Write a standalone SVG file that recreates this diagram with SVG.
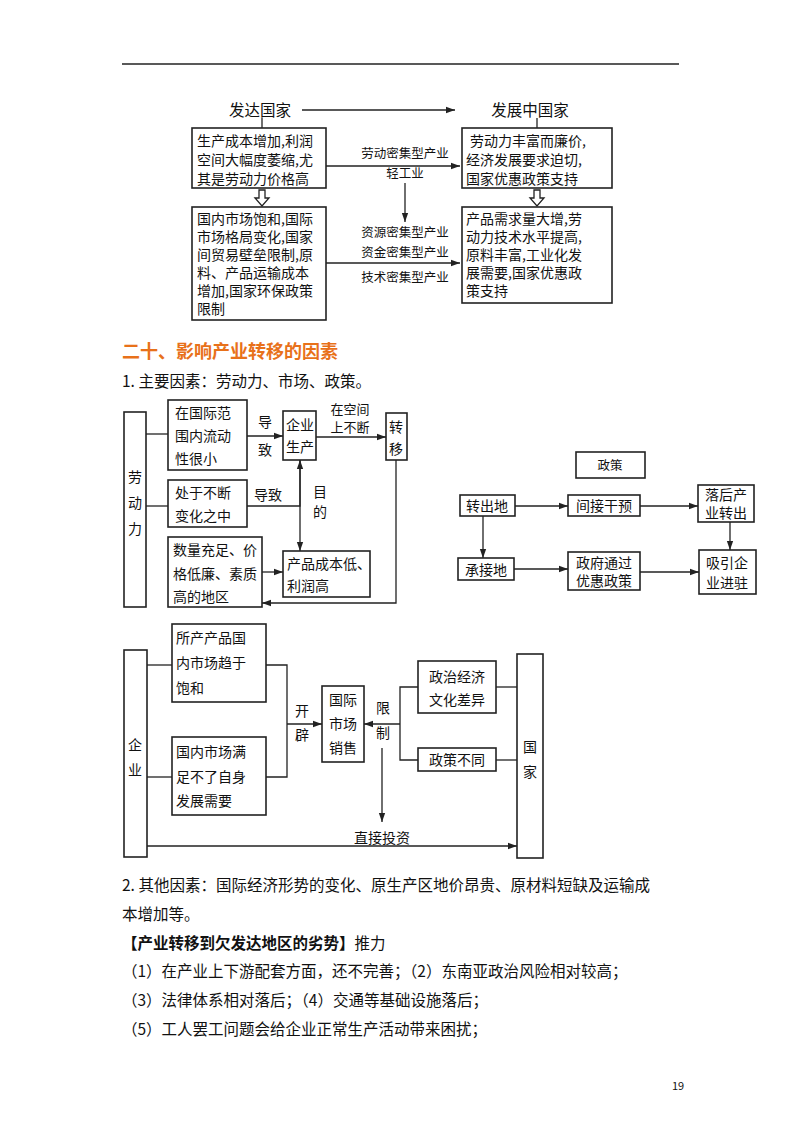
<svg xmlns="http://www.w3.org/2000/svg" width="800" height="1132" viewBox="0 0 800 1132">
<style>
text{font-family:"Noto Sans CJK SC","Noto Sans",sans-serif;fill:#111}
.t{font-size:14px}
.s{font-size:12.5px}
.b{fill:#fff;stroke:#222;stroke-width:1.6}
.l{fill:none;stroke:#222;stroke-width:1.3}
.m{font-size:15.5px}
.c{text-anchor:middle}
</style>
<defs>
<marker id="a" viewBox="0 0 10 10" refX="10" refY="5" markerWidth="7" markerHeight="7" orient="auto-start-reverse"><path d="M0,1.5 L10,5 L0,8.5 z" fill="#222"/></marker>
</defs>
<rect width="800" height="1132" fill="#fff"/>
<line x1="122" y1="64" x2="679" y2="64" stroke="#222" stroke-width="1.5"/>

<g id="connectors">
<line class="l" x1="302" y1="110" x2="455" y2="110" marker-end="url(#a)"/>
<line class="l" x1="262" y1="118" x2="262" y2="128"/>
<line class="l" x1="537" y1="118" x2="537" y2="128"/>
<line class="l" x1="326" y1="166" x2="460" y2="166" marker-end="url(#a)"/>
<line class="l" x1="405" y1="183" x2="405" y2="222" marker-end="url(#a)"/>
<line class="l" x1="326" y1="263" x2="460" y2="263" marker-end="url(#a)"/>
<path class="l" d="M259,190 h6 v8 h4 l-7,8 l-7,-8 h4 z"/>
<path class="l" d="M534,190 h6 v8 h4 l-7,8 l-7,-8 h4 z"/>

<line class="l" x1="146" y1="434" x2="168" y2="434"/>
<line class="l" x1="146" y1="506" x2="168" y2="506"/>
<line class="l" x1="247" y1="436" x2="283" y2="436" marker-end="url(#a)"/>
<path class="l" d="M247,506 H300 V460" marker-end="url(#a)"/>
<line class="l" x1="316" y1="437" x2="386" y2="437" marker-end="url(#a)"/>
<line class="l" x1="300" y1="460" x2="300" y2="551" marker-end="url(#a)"/>
<line class="l" x1="262" y1="572" x2="283" y2="572" marker-end="url(#a)"/>
<path class="l" d="M396,460 V603 H262" marker-end="url(#a)"/>

<line class="l" x1="515" y1="506" x2="568" y2="506" marker-end="url(#a)"/>
<line class="l" x1="640" y1="506" x2="698" y2="506" marker-end="url(#a)"/>
<line class="l" x1="730" y1="522" x2="730" y2="550" marker-end="url(#a)"/>
<line class="l" x1="483" y1="516" x2="483" y2="558" marker-end="url(#a)"/>
<line class="l" x1="514" y1="569" x2="568" y2="569" marker-end="url(#a)"/>
<line class="l" x1="640" y1="572" x2="699" y2="572" marker-end="url(#a)"/>

<line class="l" x1="147" y1="665" x2="172" y2="665"/>
<line class="l" x1="147" y1="777" x2="172" y2="777"/>
<path class="l" d="M266,665 H287 V777 H266"/>
<line class="l" x1="287" y1="724" x2="322" y2="724" marker-end="url(#a)"/>
<line class="l" x1="400" y1="724" x2="364" y2="724" marker-end="url(#a)"/>
<path class="l" d="M418,687 H400 V760 H418"/>
<line class="l" x1="496" y1="687" x2="517" y2="687"/>
<line class="l" x1="496" y1="760" x2="517" y2="760"/>
<line class="l" x1="382" y1="748" x2="382" y2="822" marker-end="url(#a)"/>
<line class="l" x1="147" y1="846" x2="517" y2="846" marker-end="url(#a)"/>
</g>

<g id="labels">
<text class="m c" x="260" y="116">发达国家</text>
<text class="m c" x="530" y="116">发展中国家</text>
<text class="s c" x="405" y="158">劳动密集型产业</text>
<text class="s c" x="405" y="178">轻工业</text>
<text class="s c" x="405" y="237">资源密集型产业</text>
<text class="s c" x="405" y="257">资金密集型产业</text>
<text class="s c" x="405" y="282">技术密集型产业</text>
<text class="t c" x="265" y="427">导</text>
<text class="t c" x="265" y="455">致</text>
<text class="t c" x="268" y="500">导致</text>
<text class="c" font-size="13" x="350" y="414">在空间</text>
<text class="c" font-size="13" x="350" y="432">上不断</text>
<text class="t c" x="320" y="497">目</text>
<text class="t c" x="320" y="517">的</text>
<text class="t c" x="302" y="716">开</text>
<text class="t c" x="302" y="740">辟</text>
<text class="t c" x="383" y="713">限</text>
<text class="t c" x="383" y="738">制</text>
<text class="t c" x="382" y="843">直接投资</text>
</g>

<g id="n1"><rect class="b" x="192" y="128" width="134" height="60"/>
<text class="t" x="197" y="146">生产成本增加,利润</text><text class="t" x="197" y="165">空间大幅度萎缩,尤</text><text class="t" x="197" y="184">其是劳动力价格高</text></g>
<g id="n2"><rect class="b" x="462" y="128" width="150" height="60"/>
<text class="t" x="470" y="146">劳动力丰富而廉价,</text><text class="t" x="466" y="165">经济发展要求迫切,</text><text class="t" x="466" y="184">国家优惠政策支持</text></g>
<g id="n3"><rect class="b" x="192" y="207" width="134" height="113"/>
<text class="t" x="197" y="224">国内市场饱和,国际</text><text class="t" x="197" y="242">市场格局变化,国家</text><text class="t" x="197" y="260">间贸易壁垒限制,原</text><text class="t" x="197" y="278">料、产品运输成本</text><text class="t" x="197" y="296">增加,国家环保政策</text><text class="t" x="197" y="314">限制</text></g>
<g id="n4"><rect class="b" x="462" y="207" width="150" height="96"/>
<text class="t" x="466" y="224">产品需求量大增,劳</text><text class="t" x="466" y="242">动力技术水平提高,</text><text class="t" x="466" y="260">原料丰富,工业化发</text><text class="t" x="466" y="278">展需要,国家优惠政</text><text class="t" x="466" y="296">策支持</text></g>

<text x="122" y="358" font-size="18" font-weight="bold" style="fill:#e8711a">二十、影响产业转移的因素</text>
<text x="122" y="387" font-size="15.5">1. 主要因素：劳动力、市场、政策。</text>

<g id="n5"><rect class="b" x="124" y="412" width="22" height="195"/>
<text class="t c" x="135" y="482">劳</text><text class="t c" x="135" y="508">动</text><text class="t c" x="135" y="534">力</text></g>
<g id="n6"><rect class="b" x="168" y="400" width="79" height="70"/>
<text class="t" x="175" y="418">在国际范</text><text class="t" x="175" y="441">围内流动</text><text class="t" x="175" y="464">性很小</text></g>
<g id="n7"><rect class="b" x="168" y="480" width="79" height="47"/>
<text class="t" x="175" y="498">处于不断</text><text class="t" x="175" y="521">变化之中</text></g>
<g id="n8"><rect class="b" x="168" y="537" width="94" height="70"/>
<text class="t" x="173" y="555">数量充足、价</text><text class="t" x="173" y="579">格低廉、素质</text><text class="t" x="173" y="602">高的地区</text></g>
<g id="n9"><rect class="b" x="283" y="411" width="33" height="49"/>
<text class="t c" x="300" y="430">企业</text><text class="t c" x="300" y="452">生产</text></g>
<g id="n10"><rect class="b" x="386" y="413" width="21" height="47"/>
<text class="t c" x="396" y="432">转</text><text class="t c" x="396" y="454">移</text></g>
<g id="n11"><rect class="b" x="283" y="551" width="87" height="46"/>
<text class="t" x="287" y="569">产品成本低、</text><text class="t" x="287" y="591">利润高</text></g>

<g id="n12"><rect class="b" x="576" y="452" width="69" height="26"/><text class="s c" x="610" y="470">政策</text></g>
<g id="n13"><rect class="b" x="460" y="495" width="55" height="21"/><text class="t c" x="487" y="511">转出地</text></g>
<g id="n14"><rect class="b" x="568" y="495" width="72" height="21"/><text class="t c" x="604" y="511">间接干预</text></g>
<g id="n15"><rect class="b" x="698" y="485" width="56" height="37"/><text class="t c" x="726" y="500">落后产</text><text class="t c" x="726" y="518">业转出</text></g>
<g id="n16"><rect class="b" x="458" y="558" width="56" height="22"/><text class="t c" x="486" y="575">承接地</text></g>
<g id="n17"><rect class="b" x="568" y="552" width="72" height="38"/><text class="t c" x="604" y="568">政府通过</text><text class="t c" x="604" y="586">优惠政策</text></g>
<g id="n18"><rect class="b" x="699" y="550" width="57" height="44"/><text class="t c" x="727" y="568">吸引企</text><text class="t c" x="727" y="588">业进驻</text></g>

<g id="n19"><rect class="b" x="124" y="650" width="23" height="207"/><text class="t c" x="135" y="750">企</text><text class="t c" x="135" y="775">业</text></g>
<g id="n20"><rect class="b" x="172" y="624" width="94" height="78"/>
<text class="t" x="176" y="643">所产产品国</text><text class="t" x="176" y="668">内市场趋于</text><text class="t" x="176" y="693">饱和</text></g>
<g id="n21"><rect class="b" x="172" y="737" width="94" height="78"/>
<text class="t" x="176" y="757">国内市场满</text><text class="t" x="176" y="782">足不了自身</text><text class="t" x="176" y="806">发展需要</text></g>
<g id="n22"><rect class="b" x="322" y="686" width="42" height="76"/>
<text class="t c" x="343" y="705">国际</text><text class="t c" x="343" y="729">市场</text><text class="t c" x="343" y="753">销售</text></g>
<g id="n23"><rect class="b" x="418" y="661" width="78" height="52"/>
<text class="t c" x="457" y="682">政治经济</text><text class="t c" x="457" y="705">文化差异</text></g>
<g id="n24"><rect class="b" x="418" y="748" width="78" height="23"/><text class="t c" x="457" y="765">政策不同</text></g>
<g id="n25"><rect class="b" x="517" y="654" width="26" height="204"/><text class="t c" x="530" y="752">国</text><text class="t c" x="530" y="777">家</text></g>

<text x="122" y="891" font-size="15.5">2. 其他因素：国际经济形势的变化、原生产区地价昂贵、原材料短缺及运输成</text>
<text x="122" y="920" font-size="15.5">本增加等。</text>
<text x="122" y="949" font-size="15.5"><tspan font-weight="bold">【产业转移到欠发达地区的劣势】</tspan>推力</text>
<text x="122" y="977" font-size="15.5">（1）在产业上下游配套方面，还不完善；（2）东南亚政治风险相对较高；</text>
<text x="122" y="1006" font-size="15.5">（3）法律体系相对落后；（4）交通等基础设施落后；</text>
<text x="122" y="1035" font-size="15.5">（5）工人罢工问题会给企业正常生产活动带来困扰；</text>
<text x="672" y="1090" font-size="11">19</text>
</svg>
